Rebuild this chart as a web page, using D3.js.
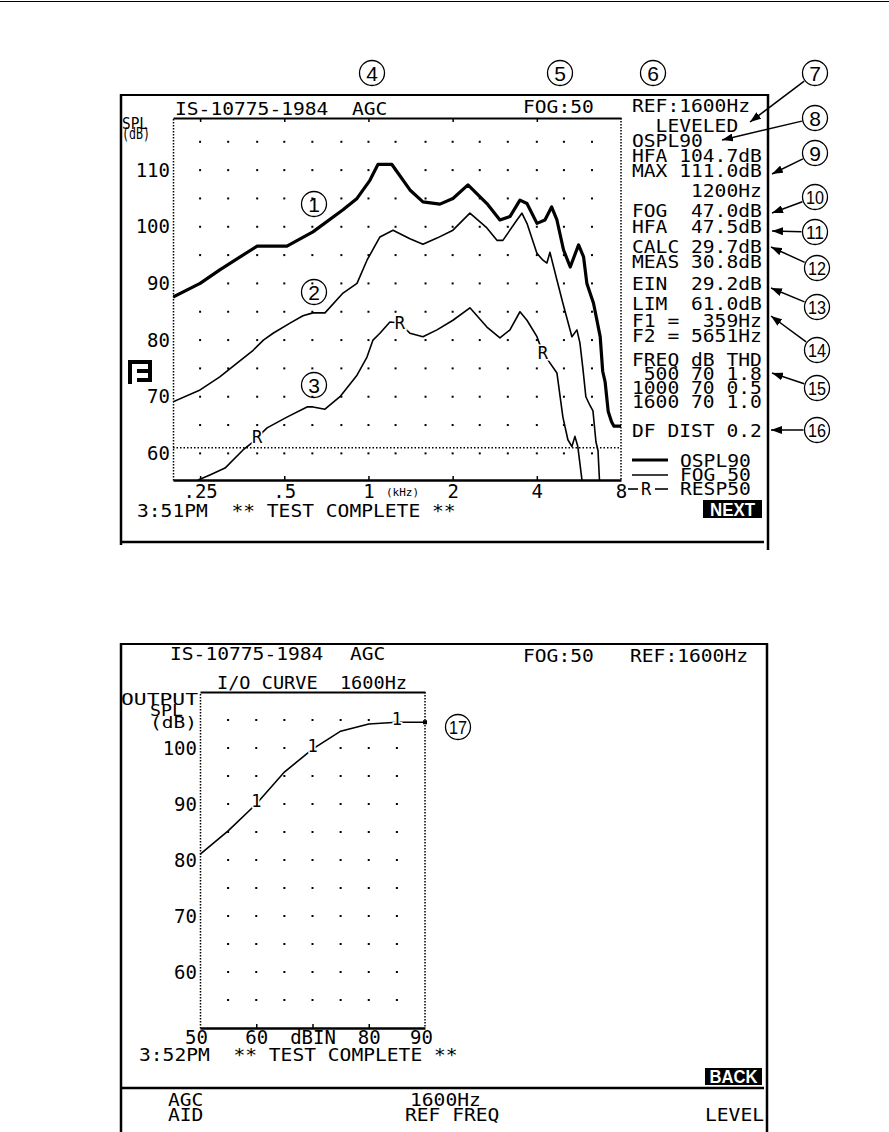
<!DOCTYPE html>
<html>
<head>
<meta charset="utf-8">
<script src="https://cdn.jsdelivr.net/npm/d3@7"></script>
<style>
  body { margin: 0; background: #ffffff; }
  svg { display: block; }
  .lcd { font-family: "DejaVu Sans Mono", monospace; font-size: 18px; fill: #000; white-space: pre; }
  .axis text { font-family: "DejaVu Sans Mono", monospace; font-size: 19px; fill: #000; }
  .axis line { stroke: #000; stroke-width: 1.5; }
  .num text { font-family: "Liberation Sans", Arial, sans-serif; fill: #000; }
</style>
</head>
<body>
<svg id="page" width="889" height="1132"></svg>
<script>
// ---- frequency response curves (Hz, dB SPL) ----
let osplFreq = [200, 250, 294, 400, 511, 633, 811, 910, 1012, 1081, 1213, 1407, 1566, 1801, 2005, 2269, 2652, 2952, 3206, 3481, 3688, 4005, 4277, 4518, 4720, 4985, 5267, 5641, 5877, 6040, 6380, 6740, 6880, 7020, 7200, 7400, 7550, 8000];
let osplDb   = [87.6, 90, 92.4, 96.6, 96.6, 99.1, 103, 105, 108.2, 111, 111, 106.5, 104.4, 104, 105, 107.4, 104.1, 101.2, 101.8, 104.7, 104.1, 100.6, 101.2, 103.5, 101.2, 95.9, 92.9, 96.8, 94.7, 90, 86.5, 80.6, 74.5, 72.6, 67.4, 65.6, 64.8, 64.8];

let fogFreq = [200, 250, 294, 338, 387, 421, 456, 524, 583, 633, 699, 811, 910, 988, 1099, 1224, 1407, 1566, 1758, 2005, 2306, 2652, 2880, 3025, 3396, 3538, 3688, 4005, 4207, 4347, 4456, 4720, 4958, 5340, 5564, 5704, 5845, 5990, 6190, 6350, 6510, 6620, 6720];
let fogDb   = [69.1, 71.2, 73.5, 75.9, 78.2, 80, 81.2, 83, 84.3, 84.8, 84.8, 88.3, 90, 94.1, 98.2, 99.4, 97.9, 96.9, 98, 99.4, 102.4, 99.8, 97.6, 97.6, 101.2, 102.4, 100.6, 95.3, 94.1, 93.6, 95.5, 90.6, 86.5, 80.6, 81.8, 79.5, 75, 70, 68.5, 67.5, 62, 60.5, 54];

let respFreq = [246, 271, 307, 356, 386, 400, 434, 511, 603, 633, 699, 791, 910, 988, 1038, 1099, 1193, 1296, 1407, 1566, 1758, 2005, 2306, 2652, 2952, 3206, 3481, 3688, 4005, 4207, 4380, 4720, 4958, 5166, 5340, 5474, 5606, 5845];
let respDb   = [55.3, 56.2, 57.4, 60.6, 62, 62.8, 64.5, 66.4, 68.2, 68.2, 67.8, 70, 73.8, 77, 80, 81.2, 83.2, 83, 81.2, 80.6, 81.8, 83.5, 85.7, 82.3, 80.4, 81.8, 85, 83.5, 80.6, 77.7, 76.5, 74.2, 66.4, 62.4, 61.2, 63, 61.2, 54];
let respMarkFreq = [400, 1296, 4207];
let limDb = 61;

let freqTicks = [250, 500, 1000, 2000, 4000, 8000];
let freqTickLabels = [".25", ".5", "1", "2", "4", "8"];
let octaveTicks = [250, 500, 1000, 2000, 4000];
let splTicks = [60, 70, 80, 90, 100, 110];
let gridFreqs = [250, 315, 400, 500, 630, 800, 1000, 1250, 1600, 2000, 2500, 3150, 4000, 5000, 6300];
let gridDb = [60, 65, 70, 75, 80, 85, 90, 95, 100, 105, 110, 115];

// ---- I/O curve at 1600 Hz (dB in, dB SPL out) ----
let ioIn  = [50, 55, 60, 65, 70, 75, 80, 85, 90];
let ioOut = [81, 85.2, 90, 95.7, 99.8, 103, 104.3, 104.6, 104.6];
let ioMarkIn = [60, 70, 85];
let ioTicks = [50, 60, 70, 80, 90];
let ioTickLabels = ["50", "60", "dBIN", "80", "90"];
let ioOutTicks = [60, 70, 80, 90, 100];
let ioGridIn = [55, 60, 65, 70, 75, 80, 85];
let ioGridOut = [55, 60, 65, 70, 75, 80, 85, 90, 95, 100, 105];

// ---- screen texts ----
let readout = ["REF:1600Hz", "  LEVELED", "OSPL90", "HFA 104.7dB", "MAX 111.0dB", "     1200Hz",
  "FOG  47.0dB", "HFA  47.5dB", "CALC 29.7dB", "MEAS 30.8dB", "EIN  29.2dB", "LIM  61.0dB",
  "F1 =  359Hz", "F2 = 5651Hz", "FREQ dB THD", " 500 70 1.8", "1000 70 0.5", "1600 70 1.0", "DF DIST 0.2"];
let legendNames = ["OSPL90", "FOG 50", "RESP50"];

// layout of the readout column
let readoutY = [112, 132, 147, 162, 177, 197, 217, 233, 253, 268, 290, 310, 327, 342, 366, 380, 394, 408, 437];
let cell = 11.8; // character pitch of the screen font

let svg = d3.select("#page");

// screen text on a fixed character grid
function lcd(str, x, y, size) {
  let body = str.trimStart();
  let lead = str.length - body.length;
  let t = svg.append("text").attr("class", "lcd")
    .attr("x", x + lead * cell).attr("y", y)
    .text(body);
  if (size) t.style("font-size", size + "px");
  else t.attr("textLength", body.length * cell).attr("lengthAdjust", "spacingAndGlyphs");
  return t;
}

function line(x1, y1, x2, y2, w, dash) {
  let l = svg.append("line")
    .attr("x1", x1).attr("y1", y1).attr("x2", x2).attr("y2", y2)
    .attr("stroke", "#000").attr("stroke-width", w || 2);
  if (dash) l.attr("stroke-dasharray", dash);
  return l;
}

// page rule
line(0, 1.5, 889, 1.5, 1);

// =============== TOP SCREEN: frequency response ===============
line(121, 95, 768, 95, 2);
line(121, 94, 121, 545, 2.5);
line(768, 94, 768, 550, 2.5);
line(121, 542, 764, 542, 2.5);

let x1 = d3.scaleLog().domain([200, 8000]).range([173, 621]);
let y1 = d3.scaleLinear().domain([55.3, 119.2]).range([480, 118]);

// dot grid
let grid1 = svg.append("g");
gridFreqs.forEach(f => gridDb.forEach(v => {
  grid1.append("rect").attr("x", x1(f) - 1).attr("y", y1(v) - 1)
    .attr("width", 2).attr("height", 2).attr("fill", "#000");
}));

// top border with octave ticks
svg.append("g").attr("class", "axis")
  .attr("transform", `translate(0,${y1.range()[1]})`)
  .call(d3.axisTop(x1).tickValues(octaveTicks).tickSizeInner(-4).tickSizeOuter(0).tickFormat(""))
  .select(".domain").attr("stroke-width", 2);

// bottom axis
let ax1 = svg.append("g").attr("class", "axis")
  .attr("transform", `translate(0,${y1.range()[0]})`)
  .call(d3.axisBottom(x1).tickValues(freqTicks).tickSizeInner(-4).tickSizeOuter(0).tickPadding(4)
    .tickFormat((d, i) => freqTickLabels[i]));
ax1.select(".domain").attr("stroke-width", 2.5);
ax1.selectAll(".tick").filter(d => d === 8000).select("line").remove();
lcd("(kHz)", 386, 496, 11);

// left axis (dotted)
let ay1 = svg.append("g").attr("class", "axis")
  .attr("transform", `translate(${x1.range()[0]},0)`)
  .call(d3.axisLeft(y1).tickValues(splTicks).tickSize(0).tickPadding(3));
ay1.select(".domain").attr("stroke-width", 1.5).attr("stroke-dasharray", "1.5,1.5");
// right edge (dotted)
line(x1.range()[1], y1.range()[1], x1.range()[1], y1.range()[0], 1.5, "1.5,1.5");
// LIM line
line(x1.range()[0], y1(limDb), x1.range()[1], y1(limDb), 1.5, "1.5,2");

lcd("SPL", 122, 129, 15).attr("textLength", 26).attr("lengthAdjust", "spacingAndGlyphs");
lcd("(dB)", 122, 139, 15).attr("textLength", 28).attr("lengthAdjust", "spacingAndGlyphs");

// curves
svg.append("defs").append("clipPath").attr("id", "clip1").append("rect")
  .attr("x", 173).attr("y", 118).attr("width", 448).attr("height", 362);

let curve1 = d3.line().x(d => x1(d[0])).y(d => y1(d[1]));
let plot1 = svg.append("g").attr("clip-path", "url(#clip1)");
let series = [
  { f: osplFreq, v: osplDb, w: 3.2 },
  { f: fogFreq, v: fogDb, w: 1.6 },
  { f: respFreq, v: respDb, w: 1.6 }
];
series.forEach(s => {
  plot1.append("path")
    .datum(s.f.map((f, i) => [f, s.v[i]]))
    .attr("d", curve1)
    .attr("fill", "none").attr("stroke", "#000")
    .attr("stroke-width", s.w).attr("stroke-linejoin", "round");
});
respMarkFreq.forEach(f => {
  let v = respDb[respFreq.indexOf(f)];
  svg.append("text").attr("class", "lcd")
    .attr("x", x1(f)).attr("y", y1(v)).attr("dy", "0.35em")
    .attr("text-anchor", "middle").style("font-size", "17px")
    .attr("stroke", "#fff").attr("stroke-width", 3).attr("paint-order", "stroke")
    .text("R");
});

// header + readout
lcd("IS-10775-1984", 175, 115);
lcd("AGC", 352, 115);
lcd("FOG:50", 523, 113);
readout.forEach((s, i) => lcd(s, 632, readoutY[i]));

// legend
line(632, 460, 668, 460, 3.2);
line(632, 475, 668, 475, 1.6);
line(628, 489, 638, 489, 1.6);
line(655, 489, 668, 489, 1.6);
lcd("R", 646, 495, 17).attr("text-anchor", "middle");
legendNames.forEach((s, i) => lcd(s, 680, 467 + i * 14));

lcd("3:51PM  ** TEST COMPLETE **", 137, 517);

// soft key
svg.append("rect").attr("x", 703).attr("y", 500).attr("width", 59).attr("height", 18).attr("fill", "#000");
svg.append("text").attr("x", 732.5).attr("y", 516).attr("text-anchor", "middle")
  .attr("font-family", "Liberation Sans, Arial, sans-serif").attr("font-weight", "bold")
  .attr("font-size", 19).attr("fill", "#fff")
  .attr("textLength", 45).attr("lengthAdjust", "spacingAndGlyphs").text("NEXT");

// F3 icon
svg.append("path")
  .attr("d", "M130,382V362H150V380H139M139,371H150")
  .attr("fill", "none").attr("stroke", "#000").attr("stroke-width", 4).attr("stroke-linecap", "square");

// =============== BOTTOM SCREEN: I/O curve ===============
line(121, 644, 768, 644, 2);
line(121, 643, 121, 1132, 2.5);
line(767, 643, 767, 1132, 2.5);
line(121, 1088, 764, 1088, 2.5);

let x2 = d3.scaleLinear().domain([50, 90]).range([200, 425]);
let y2 = d3.scaleLinear().domain([50, 110]).range([1028, 692]);

let grid2 = svg.append("g");
ioGridIn.forEach(a => ioGridOut.forEach(b => {
  grid2.append("rect").attr("x", x2(a) - 1).attr("y", y2(b) - 1)
    .attr("width", 2).attr("height", 2).attr("fill", "#000");
}));

svg.append("g").attr("class", "axis")
  .attr("transform", `translate(0,${y2.range()[1]})`)
  .call(d3.axisTop(x2).tickValues([]).tickSizeOuter(0))
  .select(".domain").attr("stroke-width", 2);

let ax2 = svg.append("g").attr("class", "axis")
  .attr("transform", `translate(0,${y2.range()[0]})`)
  .call(d3.axisBottom(x2).tickValues(ioTicks).tickSizeInner(-4).tickSizeOuter(0).tickPadding(2)
    .tickFormat((d, i) => ioTickLabels[i]));
ax2.select(".domain").attr("stroke-width", 2.5);
ax2.selectAll(".tick").filter(d => d === 50 || d === 90).select("line").remove();
ax2.selectAll(".tick").filter(d => d === 50).select("text").attr("dx", -4);
ax2.selectAll(".tick").filter(d => d === 90).select("text").attr("dx", -4);

let ay2 = svg.append("g").attr("class", "axis")
  .attr("transform", `translate(${x2.range()[0]},0)`)
  .call(d3.axisLeft(y2).tickValues(ioOutTicks).tickSize(0).tickPadding(3));
ay2.select(".domain").attr("stroke-width", 1.5).attr("stroke-dasharray", "1.5,1.5");
line(x2.range()[1], y2.range()[1], x2.range()[1], y2.range()[0], 1.5, "1.5,1.5");

let curve2 = d3.line().x(d => x2(d[0])).y(d => y2(d[1]));
svg.append("path")
  .datum(ioIn.map((a, i) => [a, ioOut[i]]))
  .attr("d", curve2)
  .attr("fill", "none").attr("stroke", "#000").attr("stroke-width", 1.6);
svg.append("rect").attr("x", x2(90) - 2).attr("y", y2(ioOut[ioOut.length - 1]) - 2)
  .attr("width", 4).attr("height", 4).attr("fill", "#000");
ioMarkIn.forEach(a => {
  let b = ioOut[ioIn.indexOf(a)];
  svg.append("text").attr("class", "lcd")
    .attr("x", x2(a)).attr("y", y2(b) - 3).attr("dy", "0.35em")
    .attr("text-anchor", "middle").style("font-size", "17px")
    .attr("stroke", "#fff").attr("stroke-width", 3).attr("paint-order", "stroke")
    .text("1");
});

lcd("OUTPUT", 121, 705, 15).attr("textLength", 77).attr("lengthAdjust", "spacingAndGlyphs");
lcd("SPL", 150, 716, 15).attr("textLength", 33).attr("lengthAdjust", "spacingAndGlyphs");
lcd("(dB)", 150, 728, 15).attr("textLength", 47).attr("lengthAdjust", "spacingAndGlyphs");

lcd("IS-10775-1984", 170, 660);
lcd("AGC", 350, 660);
lcd("FOG:50", 523, 662);
lcd("REF:1600Hz", 630, 662);
lcd("I/O CURVE  1600Hz", 217, 689, 17).attr("textLength", 190).attr("lengthAdjust", "spacingAndGlyphs");

lcd("3:52PM  ** TEST COMPLETE **", 139, 1061);

svg.append("rect").attr("x", 705).attr("y", 1068).attr("width", 57).attr("height", 17).attr("fill", "#000");
svg.append("text").attr("x", 733.5).attr("y", 1083).attr("text-anchor", "middle")
  .attr("font-family", "Liberation Sans, Arial, sans-serif").attr("font-weight", "bold")
  .attr("font-size", 18).attr("fill", "#fff")
  .attr("textLength", 48).attr("lengthAdjust", "spacingAndGlyphs").text("BACK");

lcd("AGC", 168, 1106);
lcd("AID", 168, 1121);
lcd("1600Hz", 410, 1106);
lcd("REF FREQ", 405, 1121);
lcd("LEVEL", 705, 1121);

// =============== callouts ===============
let callNum = [1, 2, 3, 4, 5, 6, 7, 8, 9, 10, 11, 12, 13, 14, 15, 16, 17];
let callPos = [[314, 204], [314, 292], [314, 385], [372, 73], [560, 73], [653, 73], [815, 73], [815, 118],
  [815, 153], [815, 197], [815, 232], [817, 268], [817, 307], [817, 350], [817, 388], [817, 430], [458, 727]];
let arrowTip = { 7: [750, 122], 8: [722, 140], 9: [772, 174], 10: [772, 213], 11: [772, 231], 12: [771, 247],
  13: [771, 288], 14: [771, 316], 15: [772, 373], 16: [771, 430] };

svg.select("defs").append("marker").attr("id", "ah")
  .attr("viewBox", "0 0 11 8").attr("refX", 11).attr("refY", 4)
  .attr("markerWidth", 11).attr("markerHeight", 8)
  .attr("markerUnits", "userSpaceOnUse").attr("orient", "auto")
  .append("path").attr("d", "M0,0L11,4L0,8Z").attr("fill", "#000");

let r = 12.5;
callNum.forEach((n, i) => {
  let [cx, cy] = callPos[i];
  let g = svg.append("g").attr("class", "num");
  g.append("circle").attr("cx", cx).attr("cy", cy).attr("r", r)
    .attr("fill", "none").attr("stroke", "#000").attr("stroke-width", 1.3);
  let t = g.append("text").attr("x", cx).attr("y", cy).attr("dy", "0.36em")
    .attr("text-anchor", "middle").attr("font-size", n > 9 ? 19 : 21).text(n);
  if (n > 9) t.attr("textLength", 18).attr("lengthAdjust", "spacingAndGlyphs");
  if (arrowTip[n]) {
    let [tx, ty] = arrowTip[n];
    let a = Math.atan2(ty - cy, tx - cx);
    g.append("line")
      .attr("x1", cx + (r + 1) * Math.cos(a)).attr("y1", cy + (r + 1) * Math.sin(a))
      .attr("x2", tx).attr("y2", ty)
      .attr("stroke", "#000").attr("stroke-width", 1.5)
      .attr("marker-end", "url(#ah)");
  }
});
</script>
</body>
</html>
